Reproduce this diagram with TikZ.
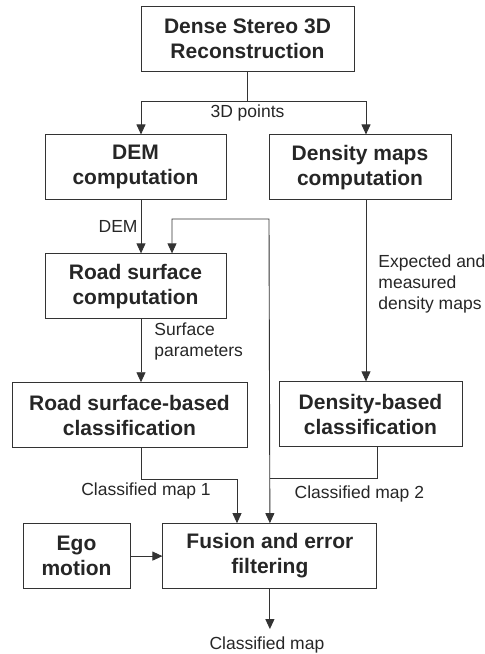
\documentclass[tikz,border=0pt]{standalone}
\usepackage{fontspec}
\setmainfont{Liberation Sans}
\usetikzlibrary{arrows.meta,positioning}

\begin{document}
\begin{tikzpicture}[x=1pt,y=-1pt]
  \tikzset{
    >={Triangle[length=10pt,width=9pt]},
    blockbox/.style={
      draw=black!80,
      line width=0.9pt,
      minimum height=65pt,
      inner sep=2pt,
      align=center,
      text=black!85,
      font=\fontsize{21}{25}\selectfont\bfseries
    },
    wire/.style={
      draw=black!80,
      line width=0.9pt
    },
    line/.style={wire, ->},
    tag/.style={
      inner sep=3pt,
      text=black!85,
      font=\fontsize{17.5}{21}\selectfont
    }
  }
  \useasboundingbox (0,0) rectangle (485,654);

  % columns of the connectors
  \coordinate (lcol) at (141,0);
  \coordinate (rcol) at (366,0);
  \coordinate (fbcol) at (172,0);
  \coordinate (c1col) at (237,0);
  \coordinate (looptop) at (269,219);

  \node[blockbox, minimum width=213pt] (recon) at (247.5,38.5) {Dense Stereo 3D\\Reconstruction};
  \node[blockbox, minimum width=181pt, below=63pt of recon, xshift=-112pt] (dem) {DEM\\computation};
  \node[blockbox, minimum width=182pt, below=63pt of recon, xshift=112.5pt] (dens) {Density maps\\computation};
  \node[blockbox, minimum width=181pt, below=53pt of dem] (road) {Road surface\\computation};
  \node[blockbox, minimum width=235pt, below=63pt of road, xshift=-6pt] (roadcls) {Road surface-based\\classification};
  \node[blockbox, minimum width=183pt, below=181pt of dens, xshift=10.5pt] (denscls) {Density-based\\classification};
  \node[blockbox, minimum width=107pt, below=75pt of roadcls, xshift=-53pt] (ego) {Ego\\motion};
  \node[blockbox, minimum width=214pt, right=32pt of ego] (fusion) {Fusion and error\\filtering};

  \draw[wire] (recon.south) -- ++(0,30) coordinate (split)
    node[tag, below] (ptslbl) {3D points};
  \draw[line] (split) -| (dem.north -| lcol);
  \draw[line] (split) -| (dens.north -| rcol);
  \draw[line] (dem.south -| lcol) -- node[tag, left] (demlbl) {DEM} (road.north -| lcol);
  \draw[line] (road.south -| lcol) -- node[tag, right, align=left, pos=0.35, xshift=10pt] (surflbl) {Surface\\parameters} (roadcls.north -| lcol);
  \draw[line] (dens.south -| rcol) -- node[tag, right, align=left, pos=0.46, xshift=9pt] (denslbl) {Expected and\\measured\\density maps} (denscls.north -| rcol);

  % feedback loop
  \draw[line, <->] (road.north -| fbcol) |- (looptop) -- (fusion.north);

  \draw[line] (roadcls.south -| lcol) -- ++(0,31) coordinate (c1turn)
    node[tag, below, xshift=5pt] (map1lbl) {Classified map 1} -| (fusion.north -| c1col);
  \draw[wire] (denscls.south -| fusion.east) -- ++(0,31) coordinate (c2turn)
    node[tag, below, xshift=-18pt, yshift=-4pt] (map2lbl) {Classified map 2} -- (c2turn -| fusion.north);

  \draw[line] (ego) -- (fusion);
  \draw[line] (fusion.south) -- ++(0,40)
    node[tag, below, xshift=-3pt, yshift=-4pt] (outlbl) {Classified map};

\end{tikzpicture}
\end{document}
